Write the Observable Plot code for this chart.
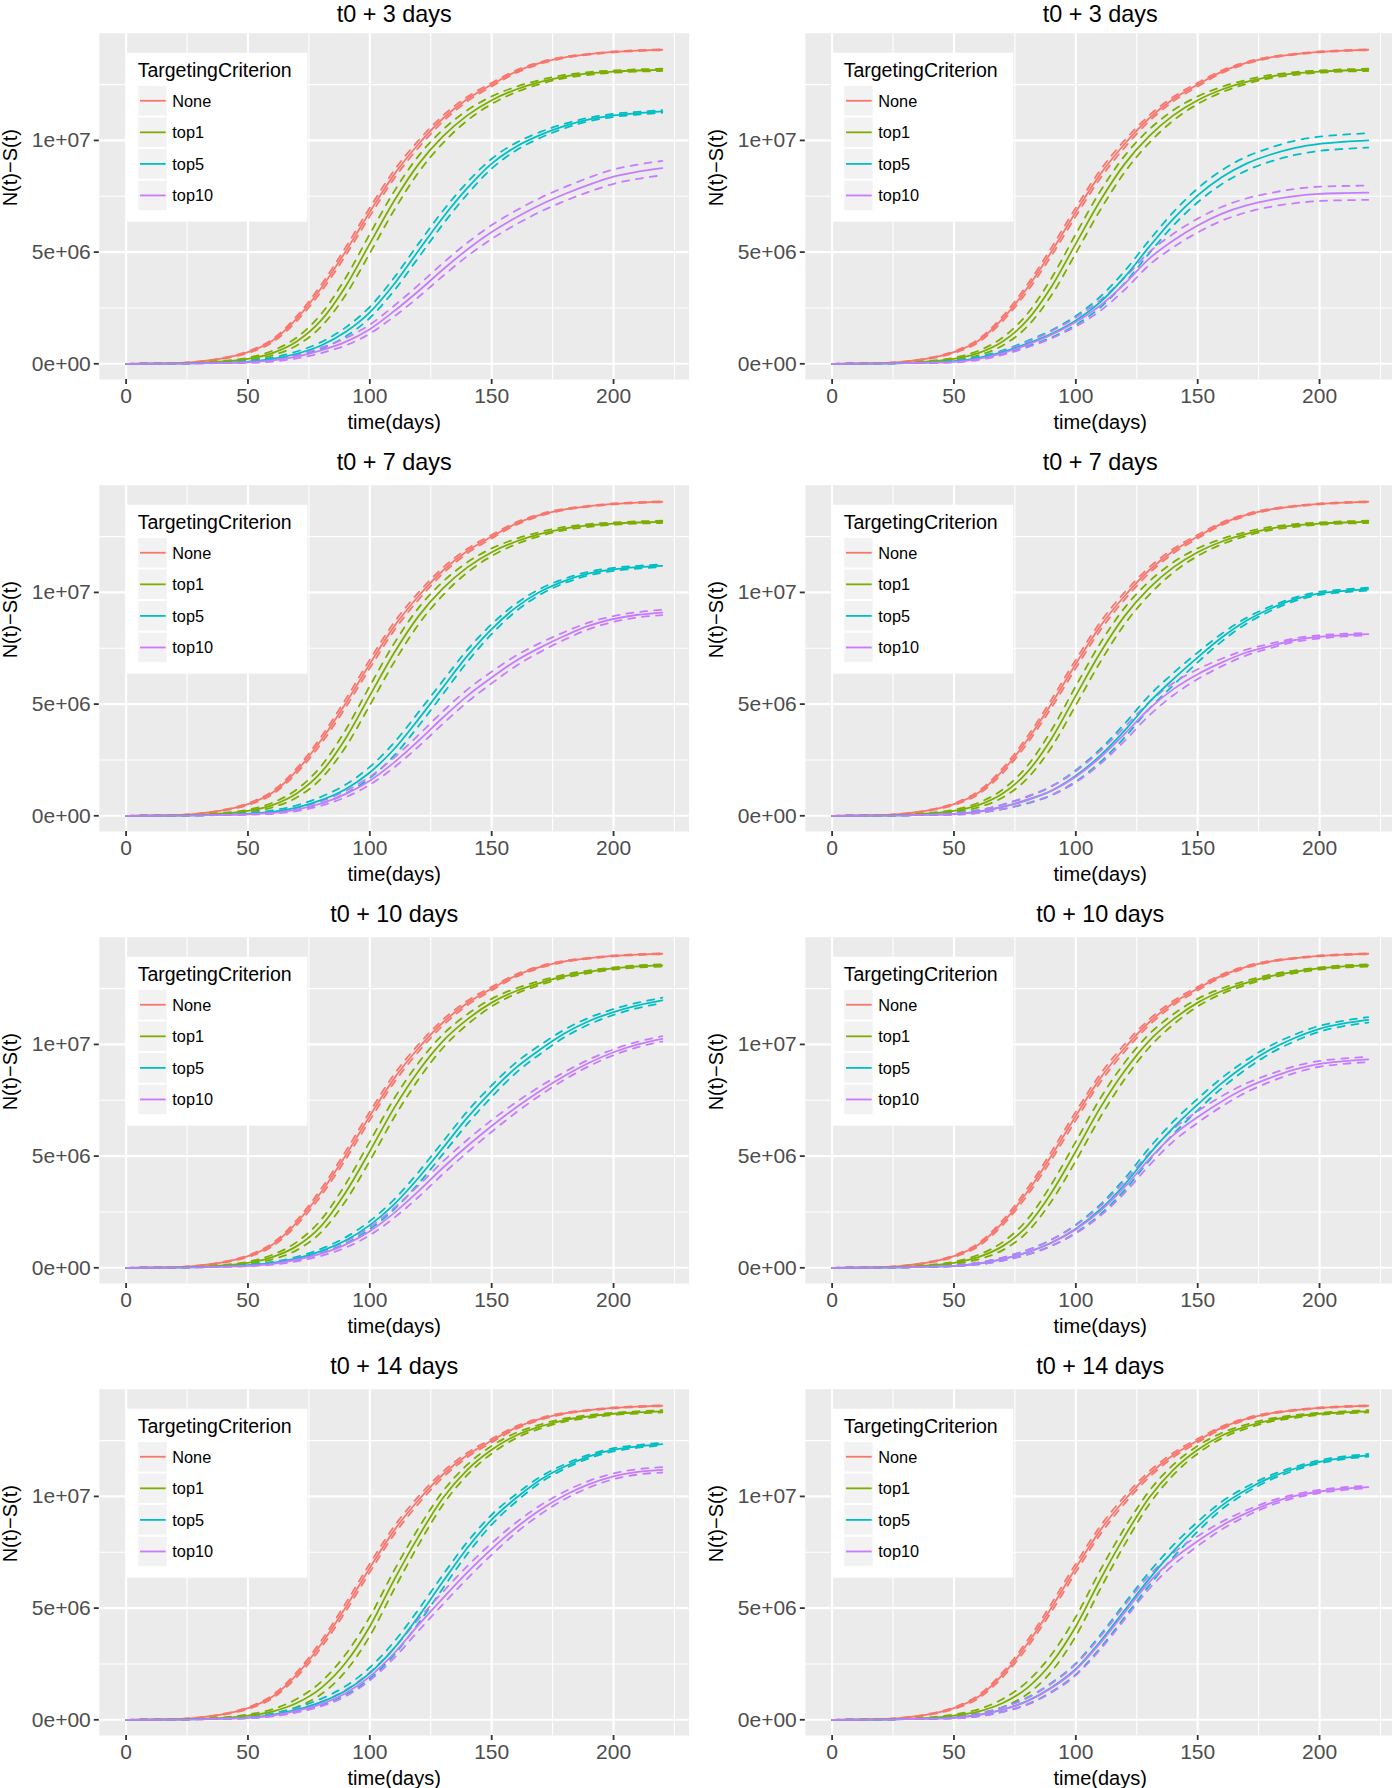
<!DOCTYPE html>
<html><head><meta charset="utf-8">
<script src="https://cdn.jsdelivr.net/npm/d3@7"></script>
<script src="https://cdn.jsdelivr.net/npm/@observablehq/plot@0.6"></script>
<style>
html,body{margin:0;padding:0;background:#fff;}
#chart{position:relative;width:1392px;height:1788px;overflow:hidden;font-family:"Liberation Sans",Arial,Helvetica,sans-serif;}
#chart svg{position:absolute;overflow:visible;}
</style></head><body><div id="chart"></div>
<script>
// ---------- data (values in millions) ----------
const days = [0,10,20,30,40,50,60,70,80,90,100,110,120,130,140,150,160,170,180,190,200,210,220];
const criteria = ["None","top1","top5","top10"];
const colors = ["#F8766D","#7CAE00","#00BFC4","#C77CFF"];
const legendTitle = "TargetingCriterion";
const panelTitles = ["t0 + 3 days","t0 + 3 days","t0 + 7 days","t0 + 7 days","t0 + 10 days","t0 + 10 days","t0 + 14 days","t0 + 14 days"];
const xLabel = "time(days)";
const yLabel = "N(t)\u2212S(t)";
const xTicks = [0,50,100,150,200];
const xMinor = [25,75,125,175,225];
const yTickValues = [0,5e6,1e7];
const yTickLabels = ["0e+00","5e+06","1e+07"];
const yMinor = [2.5e6,7.5e6,12.5e6];

const meanNone = [0,0.01,0.03,0.1,0.25,0.52,1.03,2.02,3.38,5.02,6.8,8.48,9.84,10.98,11.85,12.5,13.08,13.47,13.72,13.86,13.96,14.02,14.06];
const meanTop1_r1 = [0,0.005,0.02,0.05,0.11,0.22,0.48,1.0,1.94,3.45,5.38,7.3,8.94,10.18,11.12,11.8,12.28,12.62,12.86,13.0,13.08,13.13,13.16];
const meanTop1_r3 = [0,0.005,0.02,0.05,0.11,0.22,0.48,0.97,1.87,3.36,5.22,7.16,8.81,10.15,11.12,11.87,12.39,12.76,13.06,13.25,13.4,13.49,13.54];
const meanTop1_r4 = [0,0.005,0.02,0.04,0.09,0.19,0.37,0.75,1.42,2.54,4.18,6.27,8.21,9.93,11.19,12.09,12.73,13.13,13.42,13.58,13.7,13.76,13.81];

const top5_p1 = [0,0.003,0.01,0.03,0.05,0.1,0.22,0.45,0.82,1.42,2.3,3.57,5.07,6.55,7.86,8.96,9.72,10.25,10.65,10.94,11.12,11.22,11.3];
const top10_p1 = [0,0.003,0.01,0.02,0.04,0.07,0.15,0.32,0.6,0.98,1.55,2.36,3.26,4.22,5.12,5.9,6.55,7.12,7.6,8.02,8.38,8.6,8.76];
const top5_p2 = [0,0.003,0.01,0.03,0.06,0.12,0.27,0.52,0.9,1.34,1.94,2.76,3.88,5.22,6.49,7.54,8.36,8.96,9.37,9.67,9.85,9.94,10.0];
const top10_p2 = [0,0.003,0.01,0.03,0.05,0.09,0.22,0.48,0.85,1.3,1.87,2.61,3.58,4.7,5.52,6.19,6.72,7.09,7.34,7.51,7.61,7.64,7.66];
const top5_p3 = [0,0.003,0.01,0.02,0.05,0.1,0.18,0.37,0.7,1.19,1.94,2.99,4.33,5.75,7.16,8.36,9.33,10.04,10.52,10.85,11.03,11.13,11.19];
const top10_p3 = [0,0.003,0.01,0.02,0.04,0.07,0.13,0.28,0.55,0.97,1.57,2.39,3.36,4.4,5.37,6.19,6.94,7.54,8.06,8.51,8.81,9.0,9.1];
const top5_p4 = [0,0.003,0.01,0.02,0.05,0.09,0.19,0.4,0.7,1.12,1.79,2.69,3.81,5.07,6.12,7.09,7.99,8.73,9.28,9.7,9.96,10.07,10.15];
const top10_p4 = [0,0.003,0.01,0.02,0.05,0.08,0.18,0.4,0.72,1.12,1.75,2.61,3.66,4.78,5.67,6.34,6.87,7.31,7.61,7.87,8.01,8.09,8.13];
const top5_p5 = [0,0.003,0.01,0.03,0.06,0.12,0.22,0.42,0.75,1.22,1.91,2.84,4.03,5.37,6.72,7.91,8.96,9.78,10.5,11.05,11.45,11.75,11.97];
const top10_p5 = [0,0.003,0.01,0.02,0.05,0.09,0.18,0.36,0.63,1.04,1.64,2.46,3.43,4.48,5.45,6.35,7.18,7.93,8.6,9.18,9.65,10.0,10.25];
const top5_p6 = [0,0.003,0.01,0.02,0.05,0.09,0.19,0.39,0.69,1.12,1.75,2.61,3.73,5.07,6.27,7.31,8.28,9.1,9.78,10.3,10.7,10.94,11.1];
const top10_p6 = [0,0.003,0.01,0.02,0.05,0.09,0.19,0.39,0.69,1.12,1.72,2.54,3.61,4.85,5.94,6.75,7.46,8.06,8.51,8.88,9.13,9.25,9.33];
const top5_p7 = [0,0.003,0.01,0.03,0.05,0.1,0.22,0.45,0.79,1.3,2.09,3.21,4.63,6.19,7.69,8.96,9.93,10.75,11.34,11.79,12.09,12.24,12.34];
const top10_p7 = [0,0.003,0.01,0.02,0.05,0.09,0.19,0.4,0.7,1.19,1.94,2.99,4.25,5.45,6.6,7.65,8.6,9.4,10.05,10.55,10.9,11.1,11.19];
const top5_p8 = [0,0.003,0.01,0.03,0.05,0.1,0.22,0.46,0.84,1.45,2.28,3.5,4.9,6.3,7.55,8.65,9.6,10.3,10.85,11.25,11.55,11.73,11.84];
const top10_p8 = [0,0.003,0.01,0.03,0.05,0.09,0.21,0.45,0.82,1.42,2.24,3.43,4.8,6.15,7.2,8.0,8.7,9.25,9.7,10.02,10.22,10.35,10.42];

// half-widths of the dashed bands (millions)
const hwNone = [0,0,0,0.01,0.02,0.04,0.07,0.11,0.15,0.18,0.19,0.18,0.16,0.13,0.1,0.08,0.06,0.04,0.03,0.02,0.02,0.02,0.02];
const hwTop1 = [0,0,0,0.01,0.02,0.05,0.1,0.18,0.28,0.38,0.43,0.42,0.37,0.3,0.23,0.17,0.12,0.09,0.07,0.06,0.05,0.05,0.05];
const hwNarrowEnd = [0,0,0,0,0.01,0.03,0.06,0.1,0.15,0.2,0.25,0.29,0.31,0.3,0.27,0.22,0.17,0.13,0.1,0.08,0.07,0.06,0.06];
const hwWideEnd = [0,0,0,0,0.01,0.03,0.05,0.08,0.12,0.16,0.2,0.24,0.27,0.29,0.3,0.31,0.31,0.31,0.31,0.32,0.32,0.32,0.32];
const hwMidEnd = [0,0,0,0,0.01,0.02,0.04,0.07,0.1,0.14,0.18,0.22,0.26,0.28,0.28,0.26,0.23,0.2,0.17,0.15,0.13,0.12,0.12];

const panels = [
  {series:[meanNone,meanTop1_r1,top5_p1,top10_p1], hw:[hwNone,hwTop1,hwNarrowEnd,hwWideEnd]},
  {series:[meanNone,meanTop1_r1,top5_p2,top10_p2], hw:[hwNone,hwTop1,hwWideEnd,hwWideEnd]},
  {series:[meanNone,meanTop1_r1,top5_p3,top10_p3], hw:[hwNone,hwTop1,hwNarrowEnd,hwMidEnd]},
  {series:[meanNone,meanTop1_r1,top5_p4,top10_p4], hw:[hwNone,hwTop1,hwNarrowEnd,hwNarrowEnd]},
  {series:[meanNone,meanTop1_r3,top5_p5,top10_p5], hw:[hwNone,hwTop1,hwMidEnd,hwMidEnd]},
  {series:[meanNone,meanTop1_r3,top5_p6,top10_p6], hw:[hwNone,hwTop1,hwMidEnd,hwMidEnd]},
  {series:[meanNone,meanTop1_r4,top5_p7,top10_p7], hw:[hwNone,hwTop1,hwNarrowEnd,hwMidEnd]},
  {series:[meanNone,meanTop1_r4,top5_p8,top10_p8], hw:[hwNone,hwTop1,hwNarrowEnd,hwNarrowEnd]}
];

// ---------- layout ----------
const W = 706, H = 452;
const mL = 98.8, mR = 17.4, mT = 37.7, mB = 68;
const FONT = '"Liberation Sans",Arial,Helvetica,sans-serif';
const chart = document.getElementById("chart");

panels.forEach((p, i) => {
  const row = Math.floor(i / 2), col = i % 2;
  const rows = [];
  criteria.forEach((c, k) => {
    days.forEach((d, j) => {
      const m = p.series[k][j] * 1e6, h = p.hw[k][j] * 1e6;
      rows.push({day: d, value: m, series: c, kind: "mid"});
      rows.push({day: d, value: m - h, series: c, kind: "lo"});
      rows.push({day: d, value: m + h, series: c, kind: "hi"});
    });
  });
  const mid = rows.filter(r => r.kind === "mid");
  const band = rows.filter(r => r.kind !== "mid");
  const titleDy = row === 0 ? -19 : -23;

  const svg = Plot.plot({
    width: W, height: H,
    marginLeft: mL, marginRight: mR, marginTop: mT, marginBottom: mB,
    style: {fontFamily: FONT, background: "transparent", overflow: "visible"},
    x: {domain: [-11, 231]},
    y: {domain: [-0.703e6, 14.8e6]},
    color: {domain: criteria, range: colors},
    marks: [
      Plot.frame({fill: "#EBEBEB", stroke: "none"}),
      Plot.ruleX(xMinor, {stroke: "white", strokeWidth: 1.1}),
      Plot.ruleY(yMinor, {stroke: "white", strokeWidth: 1.1}),
      Plot.ruleX(xTicks, {stroke: "white", strokeWidth: 2.1}),
      Plot.ruleY(yTickValues, {stroke: "white", strokeWidth: 2.1}),
      Plot.axisX({ticks: xTicks, tickSize: 5, tickPadding: 4, fontSize: 21, stroke: "#333333", strokeWidth: 1.8, fill: "#4D4D4D", label: null}),
      Plot.axisY({ticks: yTickValues, tickFormat: d => yTickLabels[yTickValues.indexOf(d)], tickSize: 5, tickPadding: 3.5, fontSize: 21, stroke: "#333333", strokeWidth: 1.8, fill: "#4D4D4D", label: null}),
      Plot.line(band, {x: "day", y: "value", z: d => d.series + d.kind, stroke: "series", strokeWidth: 1.8, strokeDasharray: "7,7", curve: "monotone-x"}),
      Plot.line(mid, {x: "day", y: "value", z: "series", stroke: "series", strokeWidth: 1.8, curve: "monotone-x"}),
      Plot.text([panelTitles[i]], {text: d => d, frameAnchor: "top", lineAnchor: "middle", dy: titleDy, fontSize: 23.4, fill: "black"}),
      Plot.text([xLabel], {text: d => d, frameAnchor: "bottom", lineAnchor: "middle", dy: 43, fontSize: 20, fill: "black"}),
      Plot.text([yLabel], {text: d => d, frameAnchor: "left", lineAnchor: "middle", dx: -88.5, rotate: -90, fontSize: 20, fill: "black"})
    ]
  });
  svg.style.left = (col * W) + "px";
  svg.style.top = (-5 + row * H) + "px";

  // legend (inside plot, top-left)
  const lx = mL + 27.2, ly = mT + 20;
  const g = d3.select(svg).append("g").attr("font-family", FONT).attr("text-anchor", "start");
  g.append("rect").attr("x", lx).attr("y", ly).attr("width", 181.3).attr("height", 169).attr("fill", "white");
  g.append("text").attr("x", lx + 11.7).attr("y", ly + 24.6).attr("font-size", 19.5).attr("fill", "black").text(legendTitle);
  criteria.forEach((c, k) => {
    const ky = ly + 33.3 + k * 31.57;
    g.append("rect").attr("x", lx + 12.3).attr("y", ky).attr("width", 28.4).attr("height", 29.5).attr("fill", "#F2F2F2");
    g.append("line").attr("x1", lx + 14).attr("x2", lx + 39.7).attr("y1", ky + 14.75).attr("y2", ky + 14.75)
      .attr("stroke", colors[k]).attr("stroke-width", 1.8);
    g.append("text").attr("x", lx + 46.3).attr("y", ky + 14.75 + 5.9).attr("font-size", 16.3).attr("fill", "black").text(c);
  });
  chart.appendChild(svg);
});
</script></body></html>
